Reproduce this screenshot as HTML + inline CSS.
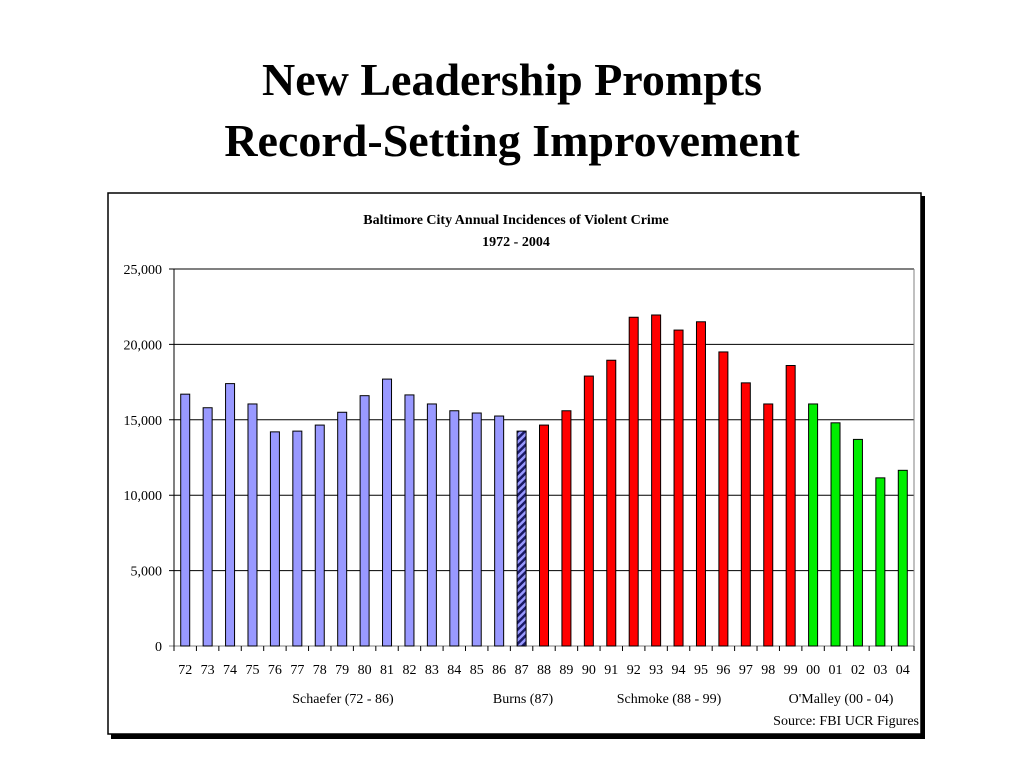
<!DOCTYPE html>
<html><head><meta charset="utf-8"><style>
html,body{margin:0;padding:0;background:#fff;width:1024px;height:768px;overflow:hidden}
</style></head><body>
<svg width="1024" height="768" xmlns="http://www.w3.org/2000/svg" font-family="Liberation Serif, serif">
<defs>
<pattern id="hatch" patternUnits="userSpaceOnUse" width="5" height="5" patternTransform="rotate(45)">
<rect width="5" height="5" fill="#9999ff"/><rect width="2.5" height="5" fill="#1a1a66"/>
</pattern>
</defs>
<text x="512" y="95" text-anchor="middle" font-size="46" font-weight="bold">New Leadership Prompts</text>
<text x="512" y="156" text-anchor="middle" font-size="46" font-weight="bold">Record-Setting Improvement</text>
<rect x="111" y="196" width="814" height="543" fill="#000"/>
<rect x="108" y="193" width="813" height="541" fill="#fff" stroke="#000" stroke-width="1.5"/>
<text x="516" y="224" text-anchor="middle" font-size="14" font-weight="bold">Baltimore City Annual Incidences of Violent Crime</text>
<text x="516" y="246" text-anchor="middle" font-size="14" font-weight="bold">1972 - 2004</text>
<g id="chart"></g>
<text x="343" y="703" text-anchor="middle" font-size="14">Schaefer (72 - 86)</text>
<text x="523" y="703" text-anchor="middle" font-size="14">Burns (87)</text>
<text x="669" y="703" text-anchor="middle" font-size="14">Schmoke (88 - 99)</text>
<text x="841" y="703" text-anchor="middle" font-size="14">O'Malley (00 - 04)</text>
<text x="919" y="725" text-anchor="end" font-size="14">Source: FBI UCR Figures</text>
</svg>
<script>
const categories=["72","73","74","75","76","77","78","79","80","81","82","83","84","85","86","87","88","89","90","91","92","93","94","95","96","97","98","99","00","01","02","03","04"];
const values=[16700,15800,17400,16050,14200,14250,14650,15500,16600,17700,16650,16050,15600,15450,15250,14250,14650,15600,17900,18950,21800,21950,20950,21500,19500,17450,16050,18600,16050,14800,13700,11150,11650];
const mayors=["s","s","s","s","s","s","s","s","s","s","s","s","s","s","s","b","m","m","m","m","m","m","m","m","m","m","m","m","o","o","o","o","o"];
const yTicks=[0,5000,10000,15000,20000,25000];
const yTickLabels=["0","5,000","10,000","15,000","20,000","25,000"];
const NS="http://www.w3.org/2000/svg";
const g=document.getElementById('chart');
const L=174,R=914,T=269,B=646,yMax=25000;
const bw=(R-L)/categories.length;
const y=v=>B-(v/yMax)*(B-T);
const x=i=>L+bw*i+bw/2;
const fills={s:"#9999ff",b:"url(#hatch)",m:"#ff0000",o:"#00ee00"};
function mk(t,a){const e=document.createElementNS(NS,t);for(const k in a)e.setAttribute(k,a[k]);g.appendChild(e);return e;}
yTicks.forEach((v,i)=>{
 const ln=mk('line',{x1:L-5,x2:R,y1:y(v),y2:y(v),stroke:v===0?'#808080':'#000','stroke-width':1});
 
 
 const t=mk('text',{x:L-12,y:y(v)+5,'text-anchor':'end','font-size':14});
 t.textContent=yTickLabels[i];
 
 
});
const ax=mk('line',{x1:L,x2:L,y1:T,y2:B,stroke:'#000'});


const rx=mk('line',{x1:R,x2:R,y1:T,y2:B,stroke:'#808080'});


for(let i=0;i<=categories.length;i++){
 const tk=mk('line',{x1:L+bw*i,x2:L+bw*i,y1:B,y2:B+5,stroke:'#000'});
 
 
}
categories.forEach((c,i)=>{
 const r=mk('rect',{x:x(i)-4.5,y:y(values[i]),width:9,height:B-y(values[i]),fill:fills[mayors[i]],stroke:'#000','stroke-width':1});
 
 
 const t=mk('text',{x:x(i),y:B+28,'text-anchor':'middle','font-size':14});
 t.textContent=c;
 
 
});
</script>
</body></html>
